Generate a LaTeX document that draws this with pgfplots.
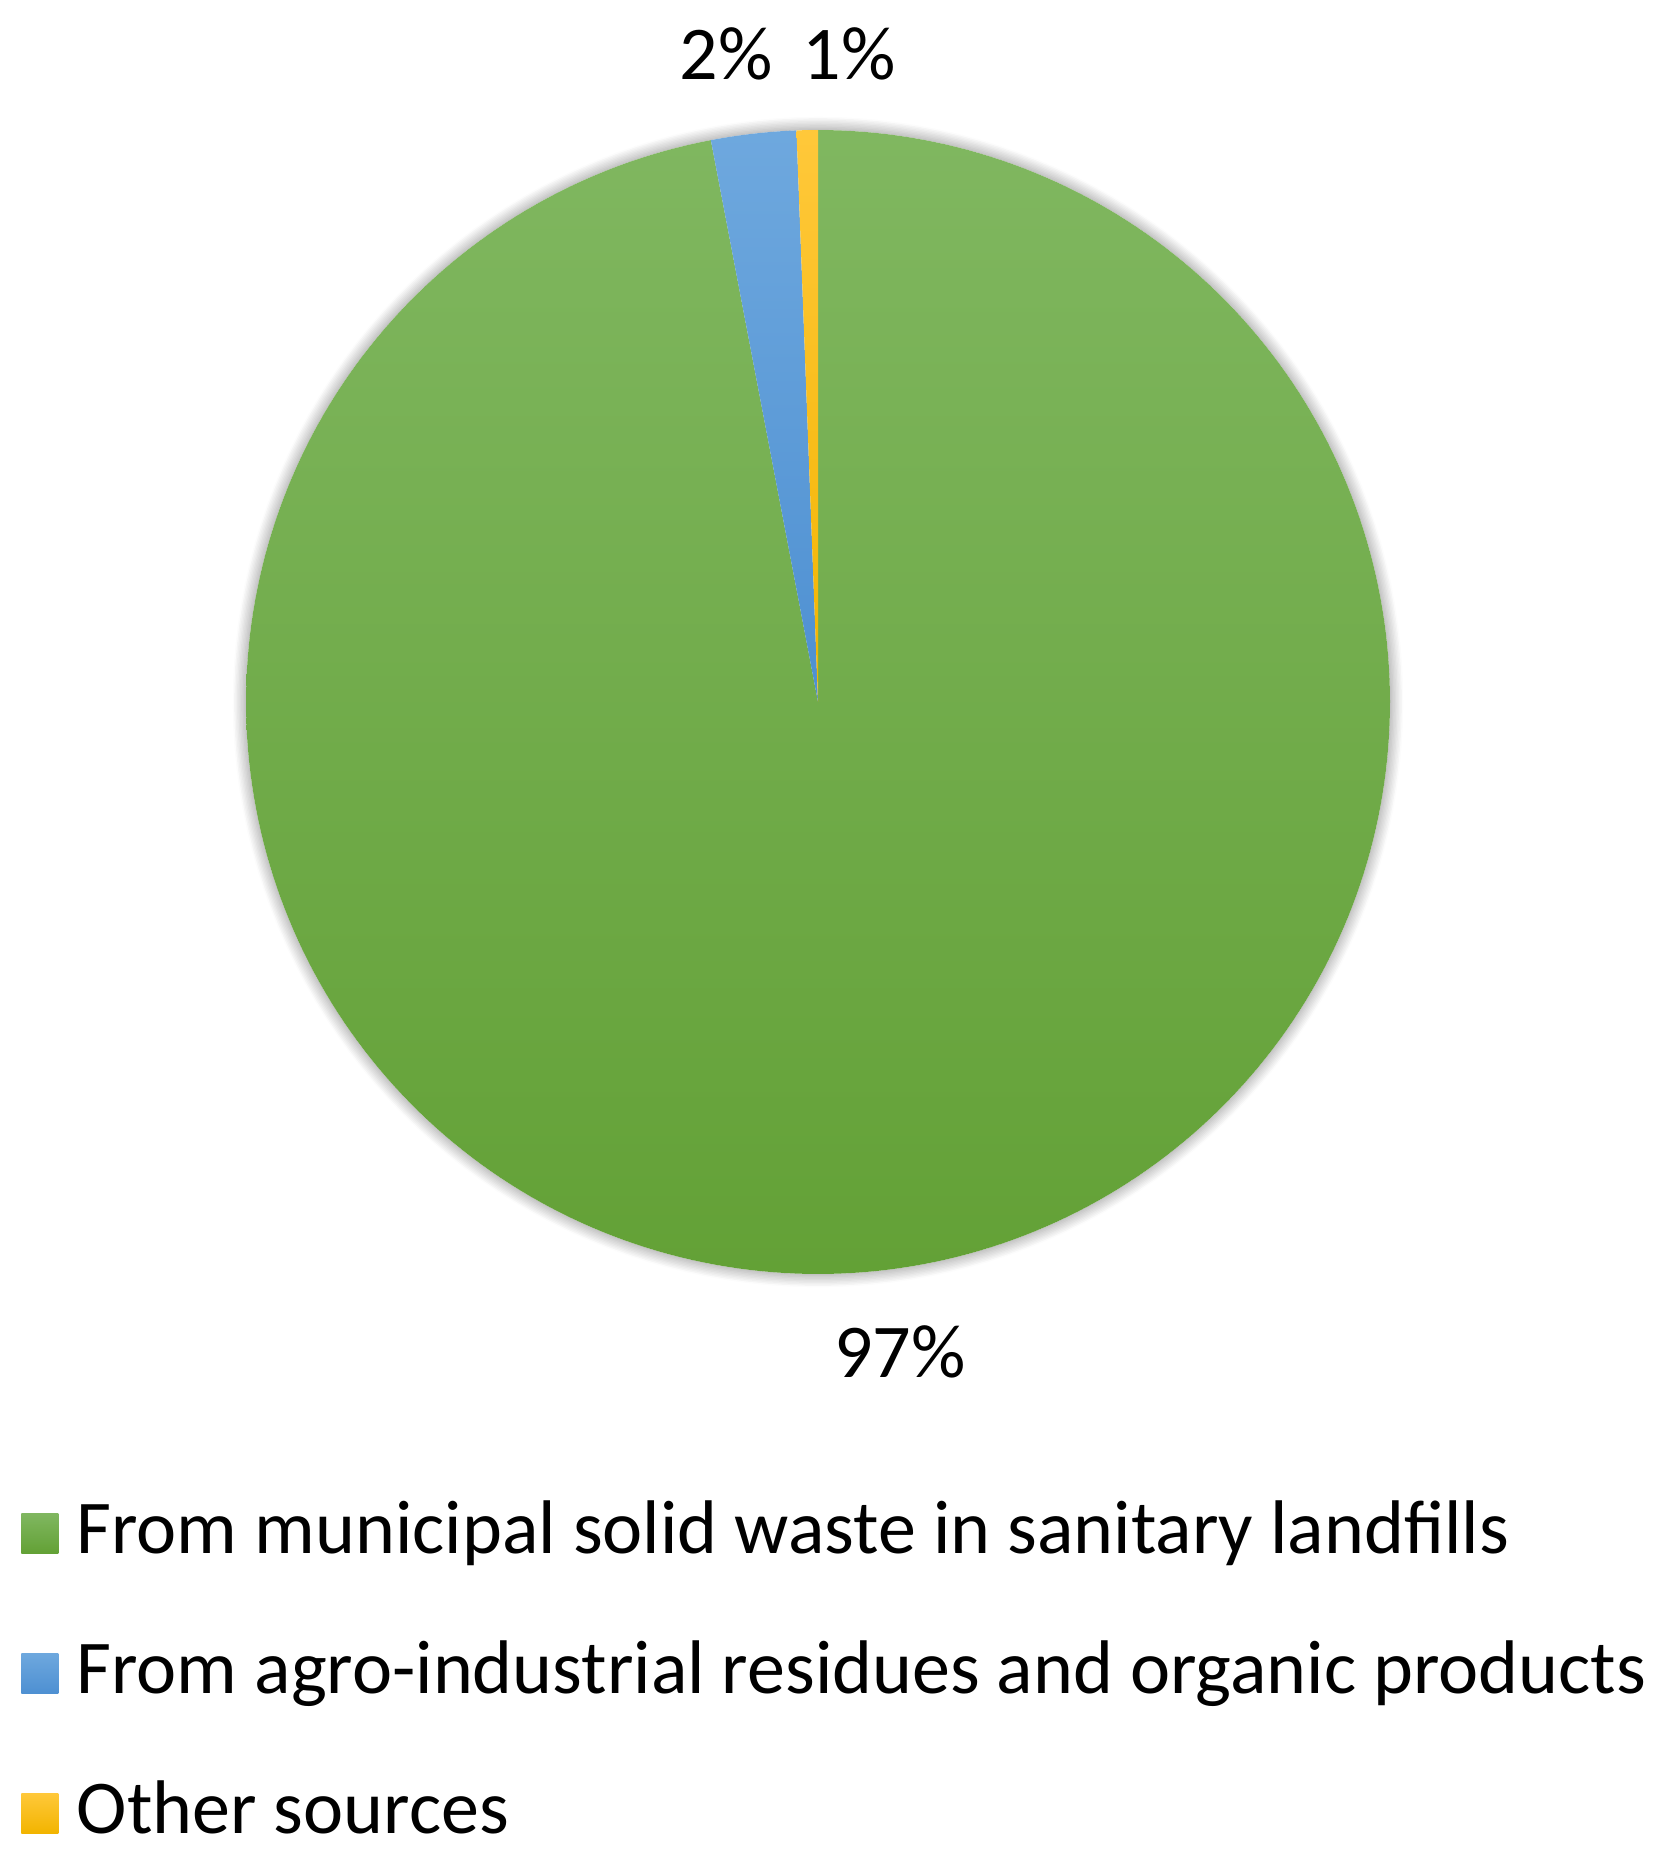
\documentclass[border=0pt]{standalone}
\usepackage{pgfplots}
\pgfplotsset{compat=1.18}
\usepackage{pgfplotstable}
\usepackage{fontspec}
\setmainfont{Carlito}
\usetikzlibrary{shadows.blur}

% share of each source, in percent
\pgfplotstableread{
slice pct
municipal 97.0
agro 2.4
other 0.6
}\piedata

\definecolor{gtop}{HTML}{80B760}
\definecolor{gbot}{HTML}{63A136}
\definecolor{btop}{HTML}{6EA8DE}
\definecolor{bbot}{HTML}{4E90D2}
\definecolor{ytop}{HTML}{FFC83A}
\definecolor{ybot}{HTML}{F2B400}

\begin{document}
\begin{tikzpicture}
\pgfplotstablegetelem{0}{pct}\of\piedata \let\pa\pgfplotsretval
\pgfplotstablegetelem{1}{pct}\of\piedata \let\pb\pgfplotsretval
\pgfplotstablegetelem{2}{pct}\of\piedata \let\pc\pgfplotsretval
\pgfmathsetmacro{\aA}{3.6*\pa}
\pgfmathsetmacro{\aB}{\aA+3.6*\pb}
\pgfmathsetmacro{\aC}{\aB+3.6*\pc}
\def\cx{818}\def\cy{702}\def\R{572}
\begin{axis}[
    width=496.5pt, height=558.6pt, scale only axis,
    xmin=0, xmax=1655, ymin=0, ymax=1862, y dir=reverse,
    hide axis, clip=false,
    legend cell align=left,
    legend image code/.code={\path[#1] (0pt,-5.5pt) rectangle (11.1pt,6.5pt);},
    legend style={at={(axis cs:20.7,1499)}, anchor=north west,
        draw=none, fill=none, inner sep=0pt, row sep=21pt, column sep=5.5pt,
        nodes={inner sep=0pt, text height=16pt, text depth=5pt},
        font=\fontsize{22.8}{27}\selectfont},
]
% soft shadow under the pie
\addplot[draw=none, fill=white, forget plot, domain=0:360, samples=180, variable=\t,
    blur shadow={shadow xshift=0pt, shadow yshift=0pt, shadow blur radius=4pt, shadow opacity=50, shadow blur steps=10}]
    ({\cx+\R*sin(\t)}, {\cy-\R*cos(\t)}) -- cycle;
\addplot[draw=none, top color=gtop, bottom color=gbot, domain=0:\aA, samples=300, variable=\t]
    ({\cx+\R*sin(\t)}, {\cy-\R*cos(\t)}) -- (axis cs:\cx,\cy) -- cycle;
\addlegendentry{From municipal solid waste in sanitary landfills}
\addplot[draw=none, top color=btop, bottom color=bbot, domain=\aA:\aB, samples=20, variable=\t]
    ({\cx+\R*sin(\t)}, {\cy-\R*cos(\t)}) -- (axis cs:\cx,\cy) -- cycle;
\addlegendentry{From agro-industrial residues and organic products}
\addplot[draw=none, top color=ytop, bottom color=ybot, domain=\aB:\aC, samples=10, variable=\t]
    ({\cx+\R*sin(\t)}, {\cy-\R*cos(\t)}) -- (axis cs:\cx,\cy) -- cycle;
\addlegendentry{Other sources}

\node[anchor=base, inner sep=0pt, font=\fontsize{22.8}{27}\selectfont] at (axis cs:726,80) {2\%};
\node[anchor=base, inner sep=0pt, font=\fontsize{22.8}{27}\selectfont] at (axis cs:849,80) {1\%};
\node[anchor=base, inner sep=0pt, font=\fontsize{22.8}{27}\selectfont] at (axis cs:900,1377) {97\%};
\coordinate (bbA) at (rel axis cs:0,0);
\coordinate (bbB) at (rel axis cs:1,1);
\end{axis}
\pgfresetboundingbox
\useasboundingbox (bbA) rectangle (bbB);
\end{tikzpicture}
\end{document}
